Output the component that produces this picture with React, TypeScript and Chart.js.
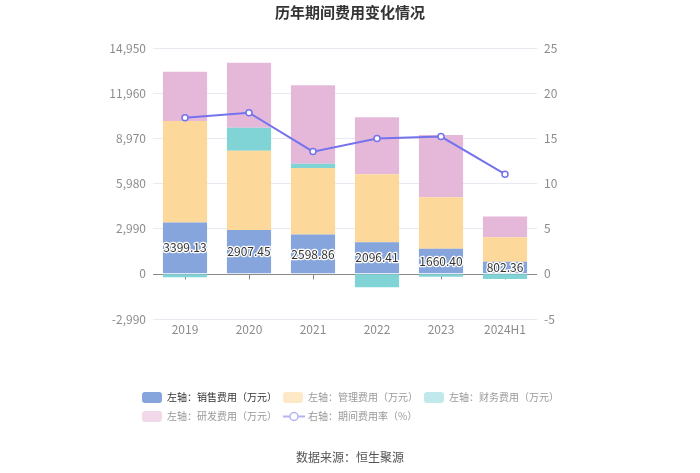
import React, { useEffect, useRef } from 'react';
import { Chart, registerables } from 'chart.js';

Chart.register(...registerables);

const categories = ['2019', '2020', '2021', '2022', '2023', '2024H1'];
const salesExpense = [3399.13, 2907.45, 2598.86, 2096.41, 1660.4, 802.36];
const adminExpense = [6719, 5248, 4412, 4498, 3413, 1625];
const financeExpense = [-220, 1521, 284, -880, -200, -350];
const rdExpense = [3261, 4299, 5186, 3770, 4120, 1364];
const expenseRate = [17.29, 17.84, 13.53, 14.97, 15.19, 11.03];
const leftTicks = [-2990, 0, 2990, 5980, 8970, 11960, 14950];
const rightTicks = [-5, 0, 5, 10, 15, 20, 25];

const seriesLabels = [
  '左轴：销售费用（万元）',
  '左轴：管理费用（万元）',
  '左轴：财务费用（万元）',
  '左轴：研发费用（万元）',
  '右轴：期间费用率（%）',
];
const titleText = '历年期间费用变化情况';
const footerText = '数据来源：恒生聚源';

const FONT = '"Noto Sans CJK SC", "Noto Sans", sans-serif';
const COLORS = ['#85a5dc', '#fdd89b', '#80d4d5', '#e5b8da', '#7473ec'];
const FADED = ['#85a5dc', '#fde9c6', '#bfe9ea', '#f1d9ea', '#b5b4f4'];

const decorPlugin = {
  id: 'decor',
  beforeDatasetsDraw(chart: any) {
    const { ctx, chartArea, scales } = chart;
    const y0 = scales.y.getPixelForValue(0);
    ctx.save();
    ctx.strokeStyle = '#8a8a8a';
    ctx.lineWidth = 1;
    ctx.beginPath();
    ctx.moveTo(chartArea.left, Math.round(y0) + 0.5);
    ctx.lineTo(chartArea.right, Math.round(y0) + 0.5);
    categories.forEach((_, i) => {
      const x = Math.round(scales.x.getPixelForValue(i)) + 0.5;
      ctx.moveTo(x, Math.round(y0) + 0.5);
      ctx.lineTo(x, Math.round(y0) + 5.5);
    });
    ctx.stroke();
    ctx.restore();
  },
  afterDatasetsDraw(chart: any) {
    const { ctx } = chart;
    const meta = chart.getDatasetMeta(0);
    ctx.save();
    ctx.font = `12px ${FONT}`;
    ctx.textAlign = 'center';
    ctx.textBaseline = 'middle';
    ctx.lineJoin = 'round';
    meta.data.forEach((el: any, i: number) => {
      const y = (el.y + el.base) / 2;
      const t = salesExpense[i].toFixed(2);
      ctx.lineWidth = 2.5;
      ctx.strokeStyle = '#ffffff';
      ctx.strokeText(t, el.x, y);
      ctx.fillStyle = '#333333';
      ctx.fillText(t, el.x, y);
    });
    ctx.restore();
  },
  afterDraw(chart: any) {
    const { ctx, width } = chart;
    ctx.save();
    ctx.font = `bold 15px ${FONT}`;
    ctx.fillStyle = '#333333';
    ctx.textAlign = 'center';
    ctx.textBaseline = 'middle';
    ctx.fillText(titleText, width / 2, 12);
    ctx.font = `12px ${FONT}`;
    ctx.fillStyle = '#555555';
    ctx.fillText(footerText, width / 2, 457);
    ctx.font = `10px ${FONT}`;
    const boxW = 20;
    const boxH = 11;
    const gap = 5;
    const itemGap = 6;
    const rows = [[0, 1, 2], [3, 4]];
    const rowY = [397.5, 416.5];
    const itemW = (i: number) => boxW + gap + ctx.measureText(seriesLabels[i]).width;
    const row0W = rows[0].reduce((s, i) => s + itemW(i), 0) + itemGap * (rows[0].length - 1);
    const startX = Math.round((width - row0W) / 2);
    rows.forEach((row, r) => {
      let x = startX;
      const cy = rowY[r];
      row.forEach((i) => {
        const active = i === 0;
        const col = active ? COLORS[i] : FADED[i];
        if (i === 4) {
          ctx.strokeStyle = col;
          ctx.lineWidth = 2;
          ctx.beginPath();
          ctx.moveTo(x, cy);
          ctx.lineTo(x + boxW + 2, cy);
          ctx.stroke();
          ctx.beginPath();
          ctx.arc(x + boxW / 2 + 1, cy, 4, 0, Math.PI * 2);
          ctx.fillStyle = '#ffffff';
          ctx.fill();
          ctx.lineWidth = 1.5;
          ctx.stroke();
        } else {
          ctx.fillStyle = col;
          ctx.beginPath();
          (ctx as any).roundRect(x, cy - boxH / 2, boxW, boxH, 3);
          ctx.fill();
        }
        ctx.fillStyle = active ? '#333333' : '#999999';
        ctx.textAlign = 'left';
        ctx.textBaseline = 'middle';
        ctx.fillText(seriesLabels[i], x + boxW + gap, cy);
        x += itemW(i) + itemGap;
      });
    });
    ctx.restore();
  },
};

export default function App() {
  const ref = useRef<HTMLCanvasElement | null>(null);
  useEffect(() => {
    if (!ref.current) return;
    Chart.defaults.font.family = FONT;
    const fmt = (v: number) => v.toLocaleString('en-US');
    const chart = new Chart(ref.current, {
      type: 'bar',
      data: {
        labels: categories,
        datasets: [
          { type: 'bar', label: seriesLabels[0], data: salesExpense, backgroundColor: COLORS[0], yAxisID: 'y', stack: 's', order: 2, barPercentage: 0.69, categoryPercentage: 1 },
          { type: 'bar', label: seriesLabels[1], data: adminExpense, backgroundColor: COLORS[1], yAxisID: 'y', stack: 's', order: 2, barPercentage: 0.69, categoryPercentage: 1 },
          { type: 'bar', label: seriesLabels[2], data: financeExpense, backgroundColor: COLORS[2], yAxisID: 'y', stack: 's', order: 2, barPercentage: 0.69, categoryPercentage: 1 },
          { type: 'bar', label: seriesLabels[3], data: rdExpense, backgroundColor: COLORS[3], yAxisID: 'y', stack: 's', order: 2, barPercentage: 0.69, categoryPercentage: 1 },
          {
            type: 'line', label: seriesLabels[4], data: expenseRate, yAxisID: 'y1', order: 0,
            borderColor: COLORS[4], borderWidth: 2, tension: 0,
            pointRadius: 3, pointBackgroundColor: '#ffffff', pointBorderColor: COLORS[4], pointBorderWidth: 1.5,
          },
        ] as any,
      },
      options: {
        responsive: false,
        animation: false,
        devicePixelRatio: 1,
        layout: { padding: { left: 103, right: 123, top: 48, bottom: 129 } },
        plugins: { legend: { display: false }, title: { display: false }, tooltip: { enabled: false } },
        scales: {
          x: {
            stacked: true,
            grid: { display: false, drawTicks: false },
            border: { display: false },
            ticks: { color: '#8c8c8c', font: { size: 12 }, padding: 3 },
            afterFit: (s: any) => { s.height = 25; },
          },
          y: {
            stacked: true,
            position: 'left',
            min: leftTicks[0],
            max: leftTicks[leftTicks.length - 1],
            afterBuildTicks: (s: any) => { s.ticks = leftTicks.map((v) => ({ value: v })); },
            ticks: { color: '#8c8c8c', font: { size: 12 }, padding: 7, callback: (v: any) => fmt(Number(v)) },
            grid: { color: (c: any) => (c.tick && c.tick.value === 0 ? 'rgba(0,0,0,0)' : '#e8eaf2'), drawTicks: false },
            border: { display: false },
            afterFit: (s: any) => { s.width = 50; },
          },
          y1: {
            position: 'right',
            min: rightTicks[0],
            max: rightTicks[rightTicks.length - 1],
            afterBuildTicks: (s: any) => { s.ticks = rightTicks.map((v) => ({ value: v })); },
            ticks: { color: '#8c8c8c', font: { size: 12 }, padding: 7 },
            grid: { display: false, drawTicks: false },
            border: { display: false },
            afterFit: (s: any) => { s.width = 40; },
          },
        },
      } as any,
      plugins: [decorPlugin],
    });
    return () => chart.destroy();
  }, []);
  return (
    <div style={{ position: 'absolute', left: 0, top: 0, width: 700, height: 473, background: '#ffffff' }}>
      <canvas ref={ref} width={700} height={473} style={{ display: 'block' }} />
    </div>
  );
}
